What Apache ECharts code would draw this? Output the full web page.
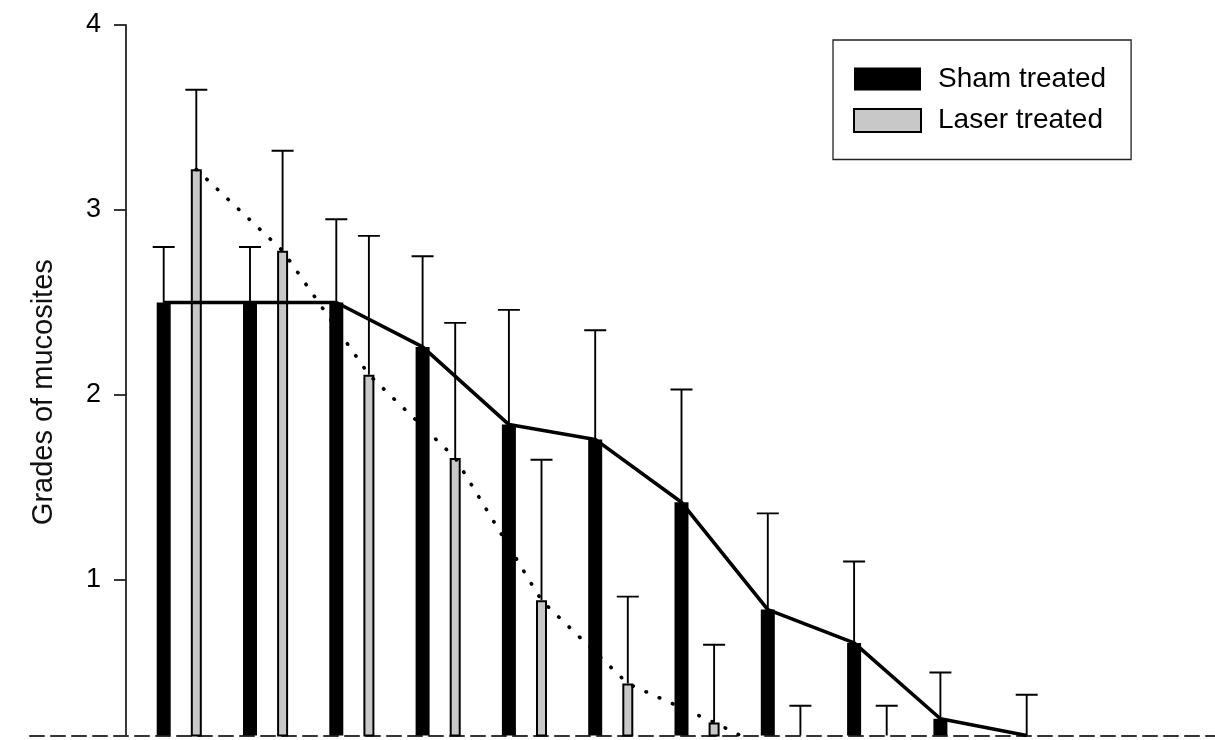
<!DOCTYPE html>
<html>
<head>
<meta charset="utf-8">
<script src="https://cdn.jsdelivr.net/npm/echarts@6/dist/echarts.min.js"></script>
<style>
  html, body { margin: 0; padding: 0; background: #fff; }
  #chart { width: 1215px; height: 740px; }
</style>
</head>
<body>
<div id="chart"></div>
<script>
// ---- data ----
const categories = ['1', '2', '3', '4', '5', '6', '7', '8', '9', '10', '11'];
const shamMean  = [2.50, 2.50, 2.50, 2.26, 1.84, 1.76, 1.42, 0.84, 0.66, 0.25, 0.16];
const shamErr   = [0.30, 0.30, 0.45, 0.49, 0.62, 0.59, 0.61, 0.52, 0.44, 0.25, 0.22];
const laserMean = [3.22, 2.78, 2.11, 1.66, 0.89, 0.44, 0.23, 0.00, 0.00, 0.00, 0.00];
const laserErr  = [0.43, 0.54, 0.75, 0.73, 0.76, 0.47, 0.42, 0.32, 0.32, 0.00, 0.00];
const yTicks = [1, 2, 3, 4];
const seriesNames = ['Sham treated', 'Laser treated'];
const yTitle = 'Grades of mucosites';

const FONT = "'Liberation Sans', Arial, sans-serif";
const Y_MIN = 0.16, Y_MAX = 4;

function errData(mean, err) {
  return mean.map((m, i) => [i, m, err[i]]);
}

function renderErr(params, api) {
  const x = api.value(0), m = api.value(1), e = api.value(2);
  if (!e) return null;
  const p0 = api.coord([x, m]);
  const p1 = api.coord([x, m + e]);
  const half = 11;
  const style = { stroke: '#000', lineWidth: 1.9 };
  return {
    type: 'group',
    children: [
      { type: 'line', shape: { x1: p0[0], y1: p0[1], x2: p1[0], y2: p1[1] }, style },
      { type: 'line', shape: { x1: p1[0] - half, y1: p1[1], x2: p1[0] + half, y2: p1[1] }, style }
    ]
  };
}

const gridV = { top: 25, bottom: 4.6 };

const option = {
  animation: false,
  backgroundColor: '#ffffff',
  grid: [
    Object.assign({ left: 30, right: 0 }, gridV),
    Object.assign({ left: 120.55, right: 145.15 }, gridV),
    Object.assign({ left: 153.15, right: 112.55 }, gridV)
  ],
  legend: {
    data: seriesNames,
    orient: 'vertical',
    left: 833,
    top: 40,
    align: 'left',
    padding: [25, 25, 25, 20],
    itemWidth: 67,
    itemHeight: 23,
    itemGap: 13.5,
    borderColor: '#222',
    borderWidth: 1.3,
    icon: 'rect',
    textStyle: { fontFamily: FONT, fontSize: 28, color: '#000', padding: [0, 0, 0, 12], lineHeight: 23 }
  },
  xAxis: [
    {
      gridIndex: 0, type: 'value', min: 0, max: 1,
      axisLine: { show: true, onZero: false, lineStyle: { color: '#333', width: 2, type: [14, 7] } },
      axisTick: { show: false }, axisLabel: { show: false }, splitLine: { show: false }
    },
    { gridIndex: 1, type: 'category', data: categories, show: false, boundaryGap: true },
    { gridIndex: 2, type: 'category', data: categories, show: false, boundaryGap: true }
  ],
  yAxis: [
    { gridIndex: 0, type: 'value', min: Y_MIN, max: Y_MAX, show: false },
    { gridIndex: 1, type: 'value', min: Y_MIN, max: Y_MAX, show: false },
    {
      gridIndex: 2, type: 'value', min: Y_MIN, max: Y_MAX, position: 'left', offset: 27.15,
      name: yTitle, nameLocation: 'middle', nameGap: 68,
      nameTextStyle: { fontFamily: FONT, fontSize: 29, color: '#111', padding: [0, 24, 0, 0] },
      axisLine: { show: true, lineStyle: { color: '#222', width: 1.8 } },
      axisTick: { show: true, inside: false, length: 12, customValues: yTicks, lineStyle: { color: '#222', width: 1.8 } },
      axisLabel: { customValues: yTicks, margin: 25, fontFamily: FONT, fontSize: 27, color: '#000' },
      splitLine: { show: false }
    }
  ],
  series: [
    {
      name: seriesNames[0], type: 'bar', xAxisIndex: 1, yAxisIndex: 1,
      data: shamMean, barWidth: 14, clip: true, z: 2,
      itemStyle: { color: '#000000' }
    },
    {
      name: seriesNames[1], type: 'bar', xAxisIndex: 2, yAxisIndex: 2,
      data: laserMean, barWidth: 11, clip: true, z: 2,
      itemStyle: { color: '#c8c8c8', borderColor: '#000', borderWidth: 2 }
    },
    {
      name: 'sham err', type: 'custom', xAxisIndex: 1, yAxisIndex: 1, clip: true, z: 2,
      renderItem: renderErr, data: errData(shamMean, shamErr)
    },
    {
      name: 'laser err', type: 'custom', xAxisIndex: 2, yAxisIndex: 2, clip: true, z: 2,
      renderItem: renderErr, data: errData(laserMean, laserErr)
    },
    {
      name: 'sham trend', type: 'line', xAxisIndex: 1, yAxisIndex: 1, clip: true, z: 4,
      data: shamMean, symbol: 'none',
      lineStyle: { color: '#000', width: 3.6 }
    },
    {
      name: 'laser trend', type: 'line', xAxisIndex: 2, yAxisIndex: 2, clip: true, z: 4,
      data: laserMean, symbol: 'none',
      lineStyle: { color: '#000', width: 3.6, type: [0.5, 14], cap: 'round' }
    }
  ]
};

const chart = echarts.init(document.getElementById('chart'), null, { renderer: 'canvas' });
chart.setOption(option);
</script>
</body>
</html>
